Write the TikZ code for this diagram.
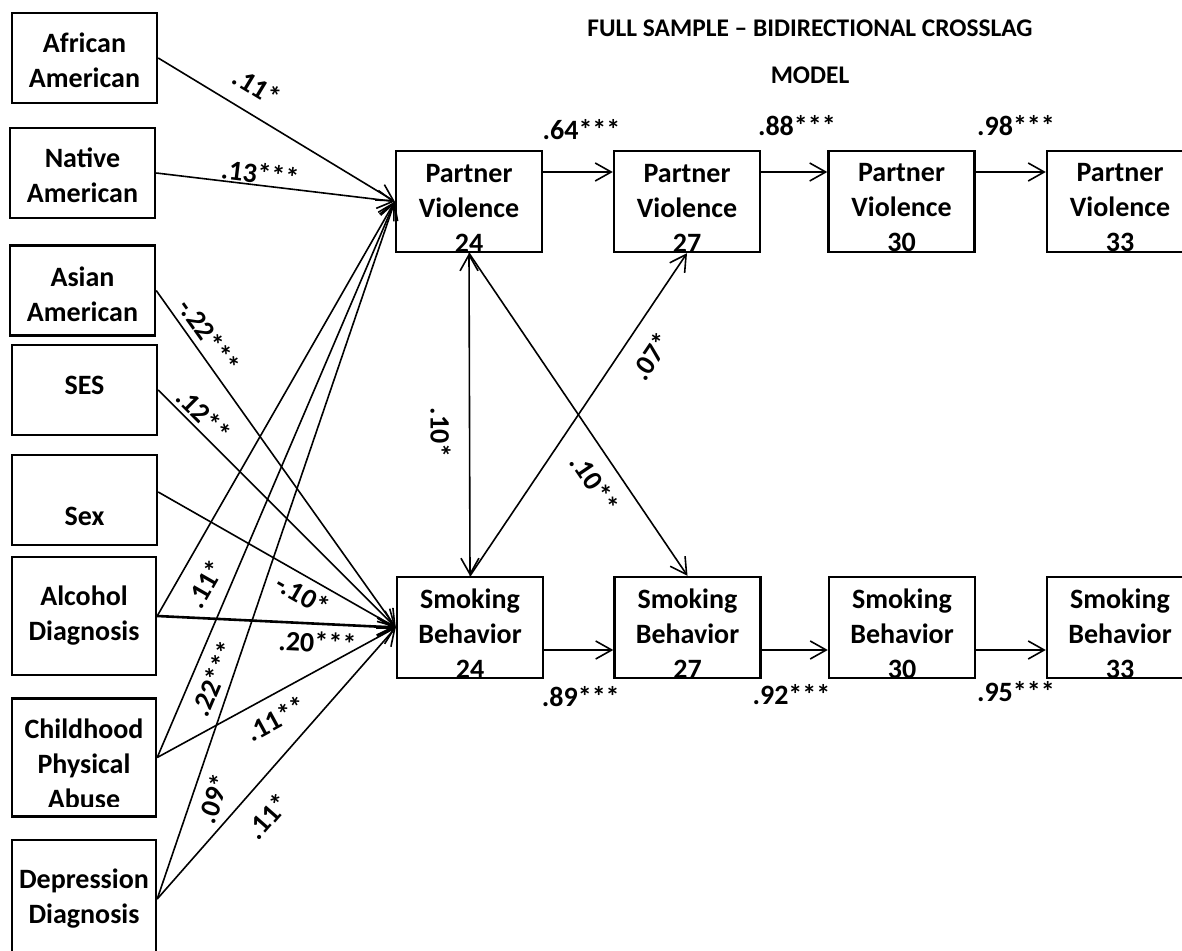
\documentclass[tikz,border=0pt]{standalone}
\usepackage{fontspec}
\setmainfont{Carlito}
\usetikzlibrary{arrows.meta}

\tikzset{
  >={Straight Barb[length=8pt,width=9pt]},
  varbox/.style={draw,line width=1.2pt,minimum width=72.5pt,minimum height=45pt,inner sep=0pt},
  tallbox/.style={varbox,minimum width=72pt,minimum height=59pt},
  wavebox/.style={varbox,minimum width=73pt,minimum height=50.5pt},
  boxtext/.style={align=center,inner sep=0pt,font=\bfseries\fontsize{14}{17.5}\selectfont},
  arr/.style={->,line width=0.8pt},
  coef/.style={inner sep=0pt,font=\bfseries\fontsize{14}{17.5}\selectfont},
}

\begin{document}
\begin{tikzpicture}[x=0.5pt,y=-0.5pt]
	\useasboundingbox (0,0) rectangle (1182,951);

	% title
	\node[align=center,inner sep=0pt,font=\bfseries\fontsize{12.7}{23.5}\selectfont] (title) at (810,51.5) {FULL SAMPLE -- BIDIRECTIONAL CROSSLAG\\MODEL};

	% predictors
	\node[varbox] (aa) at (84.5,58) {};
	\node[varbox] (na) at (82.5,173) {};
	\node[varbox] (asa) at (82.5,290.5) {};
	\node[varbox] (ses) at (84.5,390) {};
	\node[varbox] (sex) at (84.5,500) {};
	\node[tallbox] (alc) at (84,616) {};
	\node[tallbox] (cpa) at (84,757.5) {};
	\node[tallbox] (dep) at (84,899) {};

	\node[boxtext,yshift=-1pt] (aat) at (aa) {African\\American};
	\node[boxtext,yshift=-1.25pt] (nat) at (na) {Native\\American};
	\node[boxtext,yshift=-2pt] (asat) at (asa) {Asian\\American};
	\node[boxtext,yshift=2.5pt] (sest) at (ses) {SES};
	\node[boxtext,yshift=-8pt] (sext) at (sex) {Sex};
	\node[boxtext] (alct) at (alc) {Alcohol\\Diagnosis};
	\begin{scope}
		\clip (12,698) rectangle (156,806);
		\node[boxtext,yshift=-3pt] (cpat) at (cpa) {Childhood\\Physical\\Abuse};
	\end{scope}
	\node[boxtext] (dept) at (dep) {Depression\\Diagnosis};

	% partner violence waves
	\node[wavebox] (pv24) at (469,201.5) {};
	\node[wavebox] (pv27) at (687,201.5) {};
	\node[wavebox] (pv30) at (901.5,201.5) {};
	\node[wavebox] (pv33) at (1120,201.5) {};
	\node[boxtext,yshift=-3.25pt] (pv24t) at (pv24) {Partner\\Violence\\24};
	\node[boxtext,yshift=-3.25pt] (pv27t) at (pv27) {Partner\\Violence\\27};
	\node[boxtext,yshift=-3.25pt] (pv30t) at (pv30) {Partner\\Violence\\30};
	\node[boxtext,yshift=-3.25pt] (pv33t) at (pv33) {Partner\\Violence\\33};

	% smoking waves
	\node[wavebox] (sb24) at (470,627.5) {};
	\node[wavebox] (sb27) at (687.5,627.5) {};
	\node[wavebox] (sb30) at (902,627.5) {};
	\node[wavebox] (sb33) at (1120,627.5) {};
	\node[boxtext,yshift=-3pt] (sb24t) at (sb24) {Smoking\\Behavior\\24};
	\node[boxtext,yshift=-3pt] (sb27t) at (sb27) {Smoking\\Behavior\\27};
	\node[boxtext,yshift=-3pt] (sb30t) at (sb30) {Smoking\\Behavior\\30};
	\node[boxtext,yshift=-3pt] (sb33t) at (sb33) {Smoking\\Behavior\\33};

	% stability paths
	\draw[arr] ([yshift=14.75pt]pv24.east) -- node[coef,pos=0.55,above=15.5pt] (c1) {.64***} ([yshift=14.75pt]pv27.west);
	\draw[arr] ([yshift=14.75pt]pv27.east) -- node[coef,pos=0.54,above=17.5pt] (c2) {.88***} ([yshift=14.75pt]pv30.west);
	\draw[arr] ([yshift=14.75pt]pv30.east) -- node[coef,pos=0.575,above=17.5pt] (c3) {.98***} ([yshift=14.75pt]pv33.west);
	\draw[arr] ([yshift=-11.25pt]sb24.east) -- node[coef,pos=0.53,below=18pt] (c4) {.89***} ([yshift=-11.25pt]sb27.west);
	\draw[arr] ([yshift=-11.25pt]sb27.east) -- node[coef,pos=0.45,below=17pt] (c5) {.92***} ([yshift=-11.25pt]sb30.west);
	\draw[arr] ([yshift=-11.25pt]sb30.east) -- node[coef,pos=0.57,below=15.5pt] (c6) {.95***} ([yshift=-11.25pt]sb33.west);

	% cross-lagged paths
	\draw[<->,line width=0.8pt] (pv24.south) -- node[coef,pos=0.557,xshift=-14.5pt,rotate=-90] (c7) {.10*} (sb24.north);
	\draw[arr] (pv24.south) -- node[coef,sloped,pos=0.671,below=7pt] (c8) {.10**} (sb27.north);
	\draw[arr] (sb24.north) -- node[coef,sloped,pos=0.728,below=8.5pt] (c9) {.07*} (pv27.south);

	% predictors to partner violence 24
	\draw[arr] (aa.east) -- node[coef,sloped,pos=0.36,above=8pt] (c10) {.11*} (pv24.west);
	\draw[arr] (na.east) -- node[coef,sloped,pos=0.43,above=0.5pt] (c11) {.13***} (pv24.west);
	\draw[arr] (alc.east) -- node[coef,sloped,pos=0.109,below=7.5pt] (c12) {.11*} (pv24.west);
	\draw[arr] (cpa.east) -- node[coef,sloped,pos=0.157,below=5pt] (c13) {.22***} (pv24.west);
	\draw[arr] (dep.east) -- node[coef,sloped,pos=0.154,below=5pt] (c14) {.09*} (pv24.west);

	% predictors to smoking 24
	\draw[arr] (asa.east) -- node[coef,sloped,pos=0.164,above=3pt] (c15) {-.22***} (sb24.west);
	\draw[arr] (ses.east) -- node[coef,sloped,pos=0.149,above=2pt] (c16) {.12**} (sb24.west);
	\draw[arr] ([yshift=4pt]sex.east) -- node[coef,sloped,pos=0.645,below=3.3pt] (c17) {-.10*} (sb24.west);
	\draw[arr,line width=1.3pt] (alc.east) -- node[coef,sloped,pos=0.675,below=3.5pt] (c18) {.20***} (sb24.west);
	\draw[arr] (cpa.east) -- node[coef,sloped,pos=0.452,below=6pt] (c19) {.11**} (sb24.west);
	\draw[arr] (dep.east) -- node[coef,sloped,pos=0.374,below=8.7pt] (c20) {.11*} (sb24.west);
\end{tikzpicture}
\end{document}
